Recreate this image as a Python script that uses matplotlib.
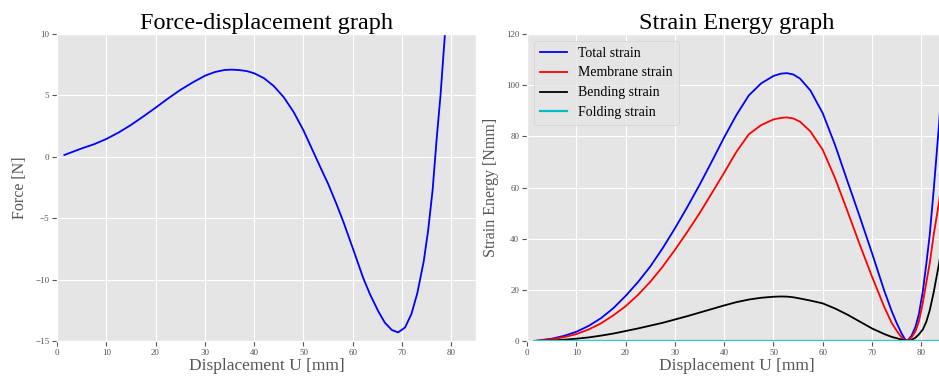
import matplotlib
matplotlib.use("Agg")
import matplotlib.pyplot as plt

plt.style.use("ggplot")
plt.rcParams["font.family"] = ["Liberation Serif", "DejaVu Serif"]

# force-displacement readings
u_force = [1.5, 5, 7.5, 10, 12.5, 15, 17.5, 20, 22.5, 25, 27.5, 30, 32, 34, 35.4, 37, 38.5, 40,
           42, 44, 46, 48, 50, 52, 54, 55, 56.7, 58.1, 60.1, 62.1, 63.5, 65.2, 66.5, 67.9,
           69.2, 70.6, 71.9, 73.1, 74.4, 75.3, 76.2, 77.0, 77.8, 78.7, 79.6]
force = [0.15, 0.68, 1.02, 1.45, 1.98, 2.59, 3.28, 4.0, 4.74, 5.44, 6.05, 6.6, 6.9, 7.07, 7.1, 7.06, 6.98, 6.8,
         6.4, 5.75, 4.85, 3.65, 2.15, 0.4, -1.35, -2.2, -3.85, -5.3, -7.55, -9.85, -11.2, -12.6, -13.5, -14.1,
         -14.3, -13.9, -12.8, -11.1, -8.5, -5.96, -2.7, 1.37, 5.0, 10.0, 15.0]

# strain energy readings
u_energy = [1.5, 5, 7.5, 10, 12.5, 15, 17.5, 20, 22.5, 25, 27.5, 30, 32.5, 35, 37.5, 40, 42.5, 45,
            47.5, 50, 51.5, 52.7, 54, 55.4, 57.5, 60, 62.5, 65, 67.5, 70, 72.5, 74, 75, 76, 76.7,
            77.2, 78, 78.8, 79.5, 80.3, 81, 81.7, 82.5, 83.6, 85]
total_strain = [0, 0.9, 2.0, 3.6, 5.9, 8.9, 12.8, 17.6, 23.0, 29.1, 36.2, 44.0, 52.3, 61.0, 70.2, 79.6, 88.4, 96.0,
                100.7, 103.6, 104.5, 104.7, 104.2, 102.55, 97.9, 89.0, 76.6, 62.5, 48.6, 34.3, 19.5, 11.6, 7.0, 2.9, 0.6,
                0.2, 2.0, 5.5, 10.5, 19.5, 30.0, 41.5, 59.0, 85.0, 125.0]
membrane_strain = [0, 0.7, 1.5, 2.7, 4.5, 6.9, 10.0, 13.6, 18.0, 23.1, 29.0, 35.6, 42.6, 49.9, 57.8, 65.8, 74.0, 80.8,
                   84.4, 86.6, 87.2, 87.4, 87.0, 85.7, 81.9, 74.7, 63.6, 50.8, 37.7, 25.1, 13.2, 7.0, 4.0, 1.3, 0.1,
                   0.2, 1.4, 3.8, 7.6, 15.0, 22.8, 30.4, 41.5, 54.5, 77.0]
bending_strain = [0, 0.2, 0.5, 0.9, 1.4, 2.1, 2.9, 3.9, 4.9, 6.0, 7.1, 8.4, 9.7, 11.1, 12.5, 13.9, 15.2, 16.2,
                  16.9, 17.3, 17.4, 17.35, 17.1, 16.6, 15.8, 14.7, 12.7, 10.3, 7.6, 4.9, 2.7, 1.6, 1.1, 0.5, 0.2,
                  0.05, 0.4, 1.3, 2.6, 4.5, 7.5, 12.0, 19.0, 30.4, 48.0]
folding_strain = [0.0] * len(u_energy)

fig = plt.figure(figsize=(9.39, 3.77), dpi=100)
ax1 = fig.add_axes([57 / 939, 36 / 377, 419 / 939, 307 / 377])
ax2 = fig.add_axes([527 / 939, 36 / 377, 419 / 939, 307 / 377])

ax1.plot(u_force, force, color="b", lw=1.3)
ax1.set_xlim(0, 85)
ax1.set_ylim(-15, 10)
ax1.set_yticks([-15, -10, -5, 0, 5, 10])
ax1.set_title("Force-displacement graph", fontsize=17.5, pad=3)
ax1.set_xlabel("Displacement U [mm]", fontsize=12.5, labelpad=1)
ax1.set_ylabel("Force [N]", fontsize=11.5, labelpad=5)

ax2.plot(u_energy, total_strain, color="b", lw=1.3, label="Total strain")
ax2.plot(u_energy, membrane_strain, color="r", lw=1.3, label="Membrane strain")
ax2.plot(u_energy, bending_strain, color="k", lw=1.3, label="Bending strain")
ax2.plot(u_energy, folding_strain, color="c", lw=1.6, label="Folding strain")
ax2.set_xlim(0, 85)
ax2.set_ylim(0, 120)
ax2.set_title("Strain Energy graph", fontsize=17.5, pad=3)
ax2.set_xlabel("Displacement U [mm]", fontsize=12.5, labelpad=1)
ax2.set_ylabel("Strain Energy [Nmm]", fontsize=11.5, labelpad=5)
ax2.legend(loc="upper left", fontsize=10, borderaxespad=0.5)

for ax in (ax1, ax2):
    ax.tick_params(labelsize=6.5, pad=2)

fig.savefig("out.png", dpi=100)
